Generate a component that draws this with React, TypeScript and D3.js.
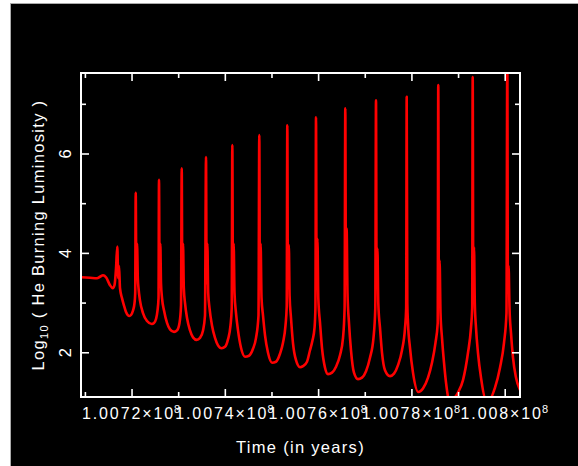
import React from "react";
import * as d3 from "d3";

// Time in thousands of years (kyr); luminosity as log10(L_He)
const timeKyr = [
  100709.06, 100710.99, 100712.49, 100713.14, 100713.78, 100714.42, 100715.28, 100715.86, 100716.24, 100716.57,
  100716.84, 100717.04, 100717.21, 100717.42, 100717.85, 100718.28, 100718.71, 100719.42, 100719.78, 100720.21,
  100720.53, 100720.68, 100720.79, 100720.92, 100721.07, 100721.24, 100721.39, 100721.71, 100722.35, 100723.21,
  100724.22, 100724.71, 100725.14, 100725.46, 100725.68, 100725.78, 100725.91, 100726.06, 100726.21, 100726.43,
  100726.86, 100727.5, 100728.14, 100729.0, 100729.64, 100730.18, 100730.5, 100730.65, 100730.78, 100730.93,
  100731.1, 100731.36, 100731.79, 100732.43, 100733.07, 100733.86, 100734.57, 100735.22, 100735.64, 100735.86,
  100735.99, 100736.14, 100736.33, 100736.61, 100737.14, 100737.79, 100738.43, 100739.22, 100739.93, 100740.57,
  100741.11, 100741.37, 100741.5, 100741.63, 100741.78, 100741.97, 100742.29, 100742.72, 100743.36, 100744.22,
  100745.08, 100745.93, 100746.58, 100747.11, 100747.28, 100747.41, 100747.56, 100747.76, 100748.08, 100748.51,
  100749.15, 100750.01, 100750.86, 100751.72, 100752.36, 100752.9, 100753.16, 100753.29, 100753.41, 100753.61,
  100753.78, 100754.08, 100754.51, 100755.15, 100756.01, 100756.65, 100757.51, 100758.15, 100758.69, 100759.12,
  100759.31, 100759.44, 100759.57, 100759.74, 100759.93, 100760.3, 100760.72, 100761.37, 100762.01, 100762.87,
  100763.73, 100764.58, 100765.23, 100765.57, 100765.72, 100765.85, 100766.0, 100766.19, 100766.51, 100766.94,
  100767.58, 100768.44, 100769.3, 100770.16, 100771.01, 100771.76, 100772.15, 100772.3, 100772.43, 100772.6,
  100772.79, 100773.16, 100773.59, 100774.23, 100775.3, 100776.16, 100777.02, 100777.87, 100778.52, 100778.77,
  100778.88, 100779.01, 100779.16, 100779.59, 100780.23, 100781.37, 100782.37, 100783.45, 100784.3, 100785.05,
  100785.53, 100785.65, 100785.78, 100785.93, 100786.13, 100786.45, 100786.88, 100787.31, 100788.01, 100788.81,
  100789.88, 100790.95, 100792.02, 100792.66, 100792.92, 100793.03, 100793.16, 100793.31, 100793.48, 100793.74,
  100794.16, 100794.81, 100795.67, 100796.74, 100797.81, 100798.88, 100799.74, 100800.27, 100800.45, 100800.57,
  100800.72, 100800.92, 100801.24, 100801.67, 100802.31, 100803.17,
];

const logLHe = [
  3.52, 3.51, 3.5, 3.53, 3.56, 3.52, 3.36, 3.3, 3.36, 3.7,
  4.14, 3.5, 3.75, 3.3, 3.1, 2.95, 2.82, 2.74, 2.76, 2.85,
  3.0, 3.2, 5.22, 3.6, 4.2, 3.5, 3.3, 3.05, 2.8, 2.64,
  2.58, 2.6, 2.68, 2.85, 3.1, 5.48, 3.5, 4.2, 3.4, 3.1,
  2.85, 2.6, 2.47, 2.42, 2.45, 2.6, 2.95, 5.71, 3.5, 4.2,
  3.3, 3.0, 2.7, 2.45, 2.31, 2.26, 2.3, 2.45, 2.75, 5.94,
  3.4, 4.2, 3.2, 2.9, 2.55, 2.3, 2.15, 2.09, 2.12, 2.27,
  2.55, 2.9, 6.18, 3.4, 4.2, 3.2, 2.8, 2.45, 2.1, 1.92,
  1.94, 2.08, 2.3, 2.75, 6.38, 3.3, 4.2, 3.1, 2.75, 2.35,
  2.0, 1.8, 1.82, 1.98, 2.2, 2.55, 2.93, 6.58, 3.3, 4.17,
  3.14, 2.7, 2.19, 1.85, 1.71, 1.73, 1.82, 2.05, 2.25, 2.5,
  2.9, 6.74, 3.3, 4.3, 3.1, 2.6, 2.1, 1.7, 1.57, 1.6,
  1.72, 1.95, 2.3, 2.9, 6.92, 3.5, 4.5, 3.2, 2.6, 2.05,
  1.6, 1.47, 1.5, 1.63, 1.9, 2.3, 2.9, 7.08, 3.4, 4.1,
  3.0, 2.5, 2.0, 1.65, 1.53, 1.58, 1.75, 2.05, 2.5, 2.9,
  7.15, 3.0, 2.6, 2.1, 1.6, 1.21, 1.28, 1.5, 1.8, 2.2,
  2.6, 7.39, 3.3, 3.86, 2.8, 2.3, 1.8, 1.4, 1.05, 1.07,
  1.2, 1.45, 2.0, 2.5, 2.9, 7.55, 3.2, 4.13, 3.0, 2.5,
  2.0, 1.5, 1.1, 1.08, 1.3, 1.7, 2.2, 2.8, 8.0, 3.3,
  3.75, 2.9, 2.4, 1.9, 1.5, 1.25,
];

const xMajorTicks = [100720, 100740, 100760, 100780, 100800];
const xMinorTicks = [100710, 100730, 100750, 100770, 100790];
const xTickLabels = ["1.0072×10", "1.0074×10", "1.0076×10", "1.0078×10", "1.008×10"];
const xTickExponent = "8";
const yMajorTicks = [2, 4, 6];
const yMinorTicks = [3, 5, 7];
const yTickLabels = ["2", "4", "6"];

const W = 578;
const H = 466;
const left = 81, right = 520, top = 73, bottom = 397;
const FONT = "'Liberation Sans', Arial, Helvetica, sans-serif";

export default function App() {
  const x = d3.scaleLinear().domain([100709.06, 100803.17]).range([left, right]);
  const y = d3.scaleLinear().domain([1.11, 7.63]).range([bottom, top]);
  const pts = timeKyr.map((t, i) => [t, logLHe[i]] as [number, number]);
  const line = d3
    .line<[number, number]>()
    .x((d) => x(d[0]))
    .y((d) => y(d[1]))
    .curve(d3.curveMonotoneX);

  const major = 8, minor = 5;
  const tickStroke = { stroke: "#fff", strokeWidth: 1.6 } as const;

  return (
    <svg
      width={W}
      height={H}
      style={{ position: "absolute", left: 0, top: 0, display: "block" }}
    >
      <rect x={0} y={0} width={W} height={H} fill="#fff" />
      <rect x={10} y={3} width={W - 10} height={H - 3} fill="#000" />
      <line x1={10.5} y1={3} x2={10.5} y2={H} stroke="#aaa" strokeWidth={1} />
      <line x1={10} y1={3.5} x2={W} y2={3.5} stroke="#aaa" strokeWidth={1} />

      <defs>
        <clipPath id="plotclip">
          <rect x={left} y={top} width={right - left} height={bottom - top} />
        </clipPath>
      </defs>

      <path
        d={line(pts) || ""}
        fill="none"
        stroke="#ff0000"
        strokeWidth={2.6}
        strokeLinejoin="round"
        clipPath="url(#plotclip)"
      />

      {/* ticks */}
      {xMajorTicks.map((t) => (
        <g key={"xM" + t}>
          <line x1={x(t)} x2={x(t)} y1={bottom} y2={bottom - major} {...tickStroke} />
          <line x1={x(t)} x2={x(t)} y1={top} y2={top + major} {...tickStroke} />
        </g>
      ))}
      {xMinorTicks.map((t) => (
        <g key={"xm" + t}>
          <line x1={x(t)} x2={x(t)} y1={bottom} y2={bottom - minor} {...tickStroke} />
          <line x1={x(t)} x2={x(t)} y1={top} y2={top + minor} {...tickStroke} />
        </g>
      ))}
      {yMajorTicks.map((v) => (
        <g key={"yM" + v}>
          <line x1={left} x2={left + major} y1={y(v)} y2={y(v)} {...tickStroke} />
          <line x1={right} x2={right - major} y1={y(v)} y2={y(v)} {...tickStroke} />
        </g>
      ))}
      {yMinorTicks.map((v) => (
        <g key={"ym" + v}>
          <line x1={left} x2={left + minor} y1={y(v)} y2={y(v)} {...tickStroke} />
          <line x1={right} x2={right - minor} y1={y(v)} y2={y(v)} {...tickStroke} />
        </g>
      ))}

      <rect
        x={left}
        y={top}
        width={right - left}
        height={bottom - top}
        fill="none"
        stroke="#fff"
        strokeWidth={2}
      />

      {/* x tick labels */}
      {xMajorTicks.map((t, i) => (
        <text
          key={"xl" + t}
          x={x(t)}
          y={418.5}
          fill="#fff"
          fontFamily={FONT}
          fontSize={16}
          letterSpacing={1.9}
          textAnchor="middle"
        >
          {xTickLabels[i]}
          <tspan fontSize={11} dy={-6} dx={-1}>
            {xTickExponent}
          </tspan>
        </text>
      ))}

      {/* y tick labels */}
      {yMajorTicks.map((v, i) => (
        <text
          key={"yl" + v}
          transform={`translate(70.5,${y(v)}) rotate(-90)`}
          fill="#fff"
          fontFamily={FONT}
          fontSize={16.5}
          textAnchor="middle"
        >
          {yTickLabels[i]}
        </text>
      ))}

      {/* axis titles */}
      <text
        x={(left + right) / 2}
        y={452.5}
        fill="#fff"
        fontFamily={FONT}
        fontSize={16.5}
        letterSpacing={1.3}
        textAnchor="middle"
      >
        Time (in years)
      </text>
      <text
        transform={`translate(43.5,${(top + bottom) / 2}) rotate(-90)`}
        fill="#fff"
        fontFamily={FONT}
        fontSize={16.5}
        letterSpacing={1.3}
        textAnchor="middle"
      >
        Log
        <tspan fontSize={11} dy={4}>
          10
        </tspan>
        <tspan dy={-4}> ( He Burning Luminosity )</tspan>
      </text>
    </svg>
  );
}
